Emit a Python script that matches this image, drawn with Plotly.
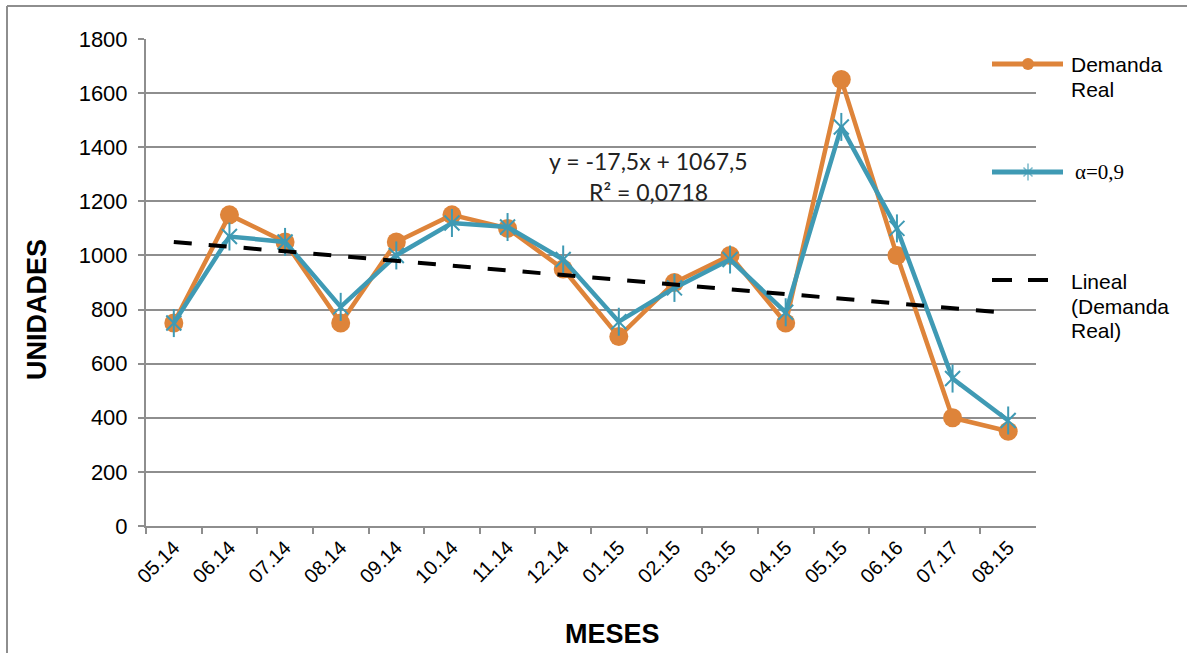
import numpy as np
import plotly.graph_objects as go

W, H = 1187, 653

# ---- data -------------------------------------------------------------
meses = ["05.14", "06.14", "07.14", "08.14", "09.14", "10.14", "11.14", "12.14",
         "01.15", "02.15", "03.15", "04.15", "05.15", "06.16", "07.17", "08.15"]
demanda_real = [750, 1150, 1050, 750, 1050, 1150, 1100, 950,
                700, 900, 1000, 750, 1650, 1000, 400, 350]
alfa_09 = [750, 1070, 1050, 810, 1000, 1120, 1105, 985,
           755, 880, 985, 790, 1475, 1100, 545, 390]
y_ticks = [0, 200, 400, 600, 800, 1000, 1200, 1400, 1600, 1800]

# ---- linear trend of the real demand ----------------------------------
t = np.arange(1, len(demanda_real) + 1)
d = np.array(demanda_real, dtype=float)
pendiente, intercepto = np.polyfit(t, d, 1)
tendencia = pendiente * t + intercepto
r2 = 1 - np.sum((d - tendencia) ** 2) / np.sum((d - d.mean()) ** 2)
eq_text = f"y = {pendiente:.1f}x + {intercepto:.1f}".replace(".", ",")
r2_text = f"R² = {r2:.4f}".replace(".", ",")

# ---- styles -----------------------------------------------------------
NARANJA = "#DE843A"
AZUL = "#3F9AB4"
GRIS = "#8E8E8E"
ARIAL = "Liberation Sans, Arial, sans-serif"
CLEAR = "rgba(0,0,0,0)"


def px(x):
    return x / W


def py(y):
    return 1 - y / H


fig = go.Figure()

fig.add_trace(go.Scatter(
    x=meses, y=demanda_real, mode="lines+markers", name="Demanda Real",
    line=dict(color=NARANJA, width=4.5),
    marker=dict(symbol="circle", size=19, color=NARANJA),
    showlegend=False))

fig.add_trace(go.Scatter(
    x=meses, y=alfa_09, mode="lines+markers", name="α=0,9",
    line=dict(color=AZUL, width=4.5),
    marker=dict(symbol="x-thin-open", size=15, color=AZUL, line=dict(color=AZUL, width=2)),
    showlegend=False))
fig.add_trace(go.Scatter(
    x=meses, y=alfa_09, mode="markers", hoverinfo="skip",
    marker=dict(symbol="line-ns-open", size=20, color=AZUL, line=dict(color=AZUL, width=2)),
    showlegend=False))

fig.add_trace(go.Scatter(
    x=meses, y=tendencia, mode="lines", name="Lineal (Demanda Real)",
    line=dict(color="black", width=4, dash="18px,17px"),
    showlegend=False))

# ---- legend drawn on a full-figure overlay (pixel coordinates) --------
leg_x0, leg_x1, leg_xm = 992, 1063, 1028
fig.add_trace(go.Scatter(
    x=[leg_x0, leg_x1], y=[64, 64], xaxis="x2", yaxis="y2", mode="lines",
    line=dict(color=NARANJA, width=5), hoverinfo="skip", showlegend=False))
fig.add_trace(go.Scatter(
    x=[leg_xm], y=[64], xaxis="x2", yaxis="y2", mode="markers",
    marker=dict(symbol="circle", size=12, color=NARANJA),
    hoverinfo="skip", showlegend=False))
fig.add_trace(go.Scatter(
    x=[leg_x0, leg_x1], y=[172, 172], xaxis="x2", yaxis="y2", mode="lines",
    line=dict(color=AZUL, width=5), hoverinfo="skip", showlegend=False))
fig.add_trace(go.Scatter(
    x=[leg_xm, leg_xm], y=[172, 172], xaxis="x2", yaxis="y2", mode="markers",
    marker=dict(symbol=["x-thin-open", "line-ns-open"], size=[9, 12], color=AZUL,
                line=dict(color=AZUL, width=1.5)),
    hoverinfo="skip", showlegend=False))
fig.add_trace(go.Scatter(
    x=[leg_x0, 1050], y=[280, 280], xaxis="x2", yaxis="y2", mode="lines",
    line=dict(color="black", width=4, dash="20px,16px"),
    hoverinfo="skip", showlegend=False))

annotations = []


def texto(x, y, s, font, size, xanchor="left", color="black", angle=0):
    annotations.append(dict(
        x=px(x), y=py(y), xref="paper", yref="paper", text=s, showarrow=False,
        xanchor=xanchor, yanchor="middle", textangle=angle,
        font=dict(family=font, size=size, color=color)))


texto(1069, 65, "Demanda", ARIAL, 21)
texto(1069, 89, "Real", ARIAL, 21)
texto(1073, 172, "α=0,9", "Liberation Serif, Times New Roman, serif", 21)
texto(1069, 282, "Lineal", ARIAL, 21)
texto(1069, 306, "(Demanda", ARIAL, 21)
texto(1069, 330, "Real)", ARIAL, 21)

# trend equation
texto(648, 161, eq_text, "Lato, Open Sans, sans-serif", 23, xanchor="center", color="#222222")
texto(648, 192, r2_text, "Lato, Open Sans, sans-serif", 23, xanchor="center", color="#222222")

# axis titles
texto(37, 310, "<b>UNIDADES</b>", ARIAL, 27, xanchor="center", angle=-90)
texto(613, 634, "<b>MESES</b>", ARIAL, 27, xanchor="center")

fig.update_layout(
    width=W, height=H,
    margin=dict(l=0, r=0, t=0, b=0),
    paper_bgcolor="white", plot_bgcolor=CLEAR,
    annotations=annotations,
    shapes=[
        dict(type="line", xref="paper", yref="paper",
             x0=px(7), x1=1.02, y0=py(6), y1=py(6), line=dict(color=GRIS, width=2)),
        dict(type="line", xref="paper", yref="paper",
             x0=px(7), x1=px(7), y0=py(6), y1=-0.05, line=dict(color=GRIS, width=2)),
    ],
    xaxis=dict(
        domain=[px(146), px(1036)], anchor="y", type="category",
        range=[-0.5, len(meses) - 0.5],
        tickson="boundaries", ticks="outside", ticklen=6, tickwidth=1.5,
        tickcolor=GRIS, showline=True, linecolor=GRIS, linewidth=2,
        showgrid=False, tickangle=-45, automargin=False,
        tickfont=dict(family=ARIAL, size=20, color="black")),
    yaxis=dict(
        domain=[py(526), py(39)], anchor="x", range=[0, 1800],
        tickvals=y_ticks, ticks="outside", ticklen=6, tickwidth=1.5,
        tickcolor=GRIS, showline=True, linecolor=GRIS, linewidth=2,
        showgrid=True, gridcolor=GRIS, gridwidth=2, zeroline=False,
        automargin=False, ticklabelstandoff=6,
        tickfont=dict(family=ARIAL, size=22, color="black")),
    xaxis2=dict(domain=[0, 1], range=[0, W], anchor="y2", visible=False, fixedrange=True),
    yaxis2=dict(domain=[0, 1], range=[H, 0], anchor="x2", visible=False, fixedrange=True),
)

fig.write_html("out.html")
